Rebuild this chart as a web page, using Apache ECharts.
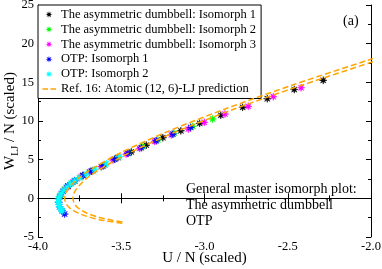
<!DOCTYPE html>
<html><head><meta charset="utf-8">
<script src="https://cdn.jsdelivr.net/npm/echarts@6/dist/echarts.min.js"></script>
<style>html,body{margin:0;padding:0;background:#fff}#c{width:382px;height:269px}</style>
</head><body><div id="c"></div>
<script>
// Asymmetric dumbbell, isomorph 1 (black)
const asym1U = [-2.287, -2.461, -2.623, -2.771, -2.902, -3.029, -3.142, -3.25, -3.35, -3.44, -3.52, -3.60, -3.67, -3.73, -3.78, -3.82];
const asym1W = [15.26, 14.07, 12.88, 11.77, 10.74, 9.70, 8.73, 7.84, 6.88, 6.0, 5.27, 4.35, 3.6, 2.95, 2.25, 1.55];
// Asymmetric dumbbell, isomorph 2 (green)
const asym2U = [-2.951, -3.07, -3.183, -3.28, -3.371, -3.46, -3.54, -3.62, -3.69, -3.75, -3.80, -3.84, -3.865];
const asym2W = [10.26, 9.3, 8.41, 7.55, 6.68, 5.82, 5.05, 4.1, 3.4, 2.7, 1.95, 1.2, 0.4];
// Asymmetric dumbbell, isomorph 3 (magenta)
const asym3U = [-2.42, -2.587, -2.737, -2.877, -3.001, -3.097, -3.20, -3.30, -3.39, -3.47, -3.55, -3.62, -3.69, -3.74, -3.79, -3.83, -3.86];
const asym3W = [14.3, 13.14, 11.9, 10.9, 9.83, 8.96, 8.2, 7.36, 6.45, 5.72, 4.95, 4.1, 3.4, 2.83, 2.1, 1.4, 0.6];
// OTP isomorph 1 (blue)
const otp1U = [-3.083, -3.19, -3.29, -3.38, -3.46, -3.54, -3.61, -3.68, -3.73, -3.78, -3.82, -3.85, -3.87, -3.875, -3.87, -3.855, -3.84];
const otp1W = [9.18, 8.3, 7.45, 6.55, 5.82, 5.05, 4.2, 3.5, 2.95, 2.3, 1.6, 0.9, 0.2, -0.5, -1.1, -1.6, -2.03];
// OTP isomorph 2 (cyan)
const otp2U = [-3.51, -3.59, -3.66, -3.71, -3.75, -3.78, -3.805, -3.825, -3.845, -3.86, -3.87, -3.877, -3.878, -3.875, -3.87, -3.862, -3.855];
const otp2W = [5.38, 4.5, 3.7, 3.15, 2.65, 2.25, 1.85, 1.45, 1.05, 0.65, 0.25, -0.1, -0.45, -0.8, -1.1, -1.4, -1.65];
// Ref. 16 prediction, two dashed curves
const refAU = [-3.494, -3.600, -3.686, -3.754, -3.802, -3.830, -3.840, -3.830, -3.802, -3.754, -3.686, -3.494, -3.226, -2.880, -2.458, -1.958];
const refAW = [-3.23, -2.88, -2.46, -1.96, -1.38, -0.73, 0.0, 0.81, 1.69, 2.65, 3.69, 5.99, 8.60, 11.52, 14.75, 18.28];
const refBU = [-3.493, -3.553, -3.638, -3.705, -3.752, -3.781, -3.790, -3.781, -3.752, -3.705, -3.638, -3.449, -3.184, -2.843, -2.426, -1.933];
const refBW = [-3.06, -2.84, -2.43, -1.93, -1.36, -0.72, 0.0, 0.80, 1.67, 2.62, 3.64, 5.91, 8.49, 11.37, 14.55, 18.04];

const legendNames = ['The asymmetric dumbbell: Isomorph 1', 'The asymmetric dumbbell: Isomorph 2', 'The asymmetric dumbbell: Isomorph 3', 'OTP: Isomorph 1', 'OTP: Isomorph 2', 'Ref. 16: Atomic (12, 6)-LJ prediction'];
const xTickLabels = ['-4.0', '-3.5', '-3.0', '-2.5', '-2.0'];
const yTickLabels = ['-5', '0', '5', '10', '15', '20', '25'];

const FONT = 'Liberation Serif';
const STAR_BODY = 'M20,10 L13.7,11.53 L17.07,17.07 L11.53,13.7 L10,20 L8.47,13.7 L2.93,17.07 L6.3,11.53 L0,10 L6.3,8.47 L2.93,2.93 L8.47,6.3 L10,0 L11.53,6.3 L17.07,2.93 L13.7,8.47 Z';
const STAR = 'path://' + STAR_BODY;
// legend star: path box 40x20 so that in a 14x7 icon box the star is 7px across
const LEG_STAR = 'path://M-10,0 L-9.8,0 L-9.8,0.2 L-10,0.2 Z M30,20 L29.8,20 L29.8,19.8 L30,19.8 Z ' + STAR_BODY;
const DASH_ICON = 'path://M0,0 L0.05,0 L0.05,0.05 L0,0.05 Z M14,7 L13.95,7 L13.95,6.95 L14,6.95 Z M0.5,2.8 L6,2.8 L6,4.2 L0.5,4.2 Z M8.5,2.8 L14,2.8 L14,4.2 L8.5,4.2 Z';
const zip = (u, w) => u.map((v, i) => [v, w[i]]);

function scatter(name, u, w, color) {
  return { name, type: 'scatter', data: zip(u, w), symbol: STAR, symbolSize: 7.5,
    itemStyle: { color, borderColor: color, borderWidth: 0.5, opacity: 1 } };
}
function refLine(u, w) {
  return { name: legendNames[5], type: 'line', data: zip(u, w), smooth: 0.3, symbol: 'none',
    lineStyle: { color: '#ffa500', width: 1.5, type: [6, 3] }, itemStyle: { color: '#ffa500' }, z: 5 };
}
const tickCommon = { inside: true, length: 5, lineStyle: { color: '#000' } };
const minorCommon = { show: true, splitNumber: 2, length: 3, lineStyle: { color: '#000' } };

const chart = echarts.init(document.getElementById('c'));
chart.setOption({
  animation: false,
  backgroundColor: '#fff',
  grid: { left: 38, right: 11, top: 5, bottom: 32, outerBoundsMode: 'none', containLabel: false },
  legend: {
    orient: 'vertical', left: 38, top: 5,
    data: legendNames.map((n, i) => ({ name: n, icon: i < 5 ? LEG_STAR : DASH_ICON,
      itemStyle: { borderWidth: 0 } })),
    itemWidth: 14, itemHeight: 7, itemGap: 1.9, symbolKeepAspect: false,
    padding: [3, 5, 3, 4],
    backgroundColor: '#fff', borderColor: '#000', borderWidth: 1, borderRadius: 0,
    textStyle: { fontFamily: FONT, fontSize: 12.5, color: '#000', lineHeight: 13 }
  },
  xAxis: [{
    type: 'value', min: -4, max: -2, interval: 0.5, position: 'bottom',
    axisLine: { lineStyle: { color: '#000' } }, splitLine: { show: false },
    axisTick: tickCommon, minorTick: minorCommon,
    axisLabel: { fontFamily: FONT, fontSize: 12.5, color: '#000', margin: 3,
      showMinLabel: true, showMaxLabel: true,
      formatter: v => xTickLabels[Math.round((v + 4) / 0.5)] },
    name: 'U / N (scaled)', nameLocation: 'middle', nameGap: 14, nameMoveOverlap: false,
    nameTextStyle: { fontFamily: FONT, fontSize: 15, color: '#000' }
  }, {
    type: 'value', min: -4, max: -2, interval: 0.5, position: 'top',
    axisLine: { lineStyle: { color: '#000' } }, splitLine: { show: false },
    axisTick: tickCommon, minorTick: minorCommon, axisLabel: { show: false }
  }],
  yAxis: [{
    type: 'value', min: -5, max: 25, interval: 5, position: 'left',
    axisLine: { lineStyle: { color: '#000' } }, splitLine: { show: false },
    axisTick: tickCommon, minorTick: minorCommon,
    axisLabel: { fontFamily: FONT, fontSize: 12.5, color: '#000', margin: 4,
      formatter: v => yTickLabels[Math.round((v + 5) / 5)] },
    name: '{a|W}{b|LJ}{a| / N (scaled)}', nameLocation: 'middle', nameGap: 18, nameRotate: 90, nameMoveOverlap: false,
    nameTextStyle: { fontFamily: FONT, fontSize: 15, color: '#000',
      rich: { a: { fontFamily: FONT, fontSize: 15, color: '#000', lineHeight: 20, verticalAlign: 'middle' },
              b: { fontFamily: FONT, fontSize: 10, color: '#000', lineHeight: 10, verticalAlign: 'bottom' } } }
  }, {
    type: 'value', min: -5, max: 25, interval: 5, position: 'right',
    axisLine: { lineStyle: { color: '#000' } }, splitLine: { show: false },
    axisTick: tickCommon, minorTick: minorCommon, axisLabel: { show: false }
  }],
  series: [
    scatter(legendNames[0], asym1U, asym1W, '#000000'),
    scatter(legendNames[1], asym2U, asym2W, '#00ff00'),
    scatter(legendNames[2], asym3U, asym3W, '#ff00ff'),
    scatter(legendNames[3], otp1U, otp1W, '#0000ff'),
    scatter(legendNames[4], otp2U, otp2W, '#00ffff'),
    refLine(refAU, refAW),
    refLine(refBU, refBW)
  ],
  graphic: [
    { type: 'text', left: 343, top: 14, style: { text: '(a)', font: '14px "Liberation Serif"', fill: '#000' } },
    { type: 'text', left: 186, top: 181, style: { text: 'General master isomorph plot:\nThe asymmetric dumbbell\nOTP', font: '14px "Liberation Serif"', fill: '#000', lineHeight: 16.3 } }
  ]
});
</script></body></html>
